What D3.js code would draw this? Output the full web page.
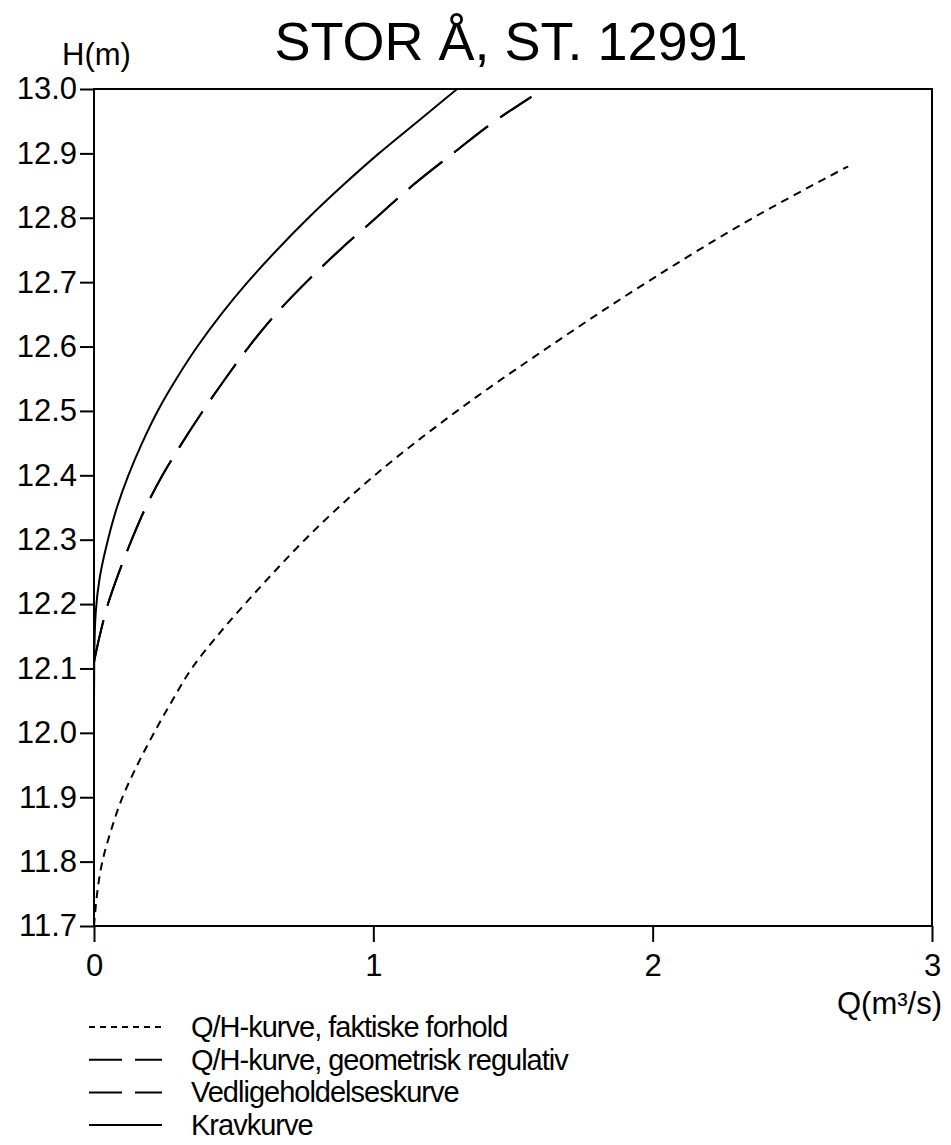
<!DOCTYPE html>
<html>
<head>
<meta charset="utf-8">
<script src="https://cdn.jsdelivr.net/npm/d3@7"></script>
<style>
  body { margin: 0; background: #fff; }
  svg text { font-family: "Liberation Sans", Arial, Helvetica, sans-serif; fill: #000; }
</style>
</head>
<body>
<div id="chart"></div>
<script>
// values
const yTicks = [11.7, 11.8, 11.9, 12.0, 12.1, 12.2, 12.3, 12.4, 12.5, 12.6, 12.7, 12.8, 12.9, 13.0];
const xTicks = [0, 1, 2, 3];

// Q/H-kurve, faktiske forhold
const faktH = [11.70, 11.72, 11.75, 11.80, 11.85, 11.90, 11.95, 12.00, 12.05, 12.10, 12.15, 12.20, 12.25, 12.30, 12.40, 12.50, 12.60, 12.70, 12.80, 12.88];
const faktQ = [0, 0.004, 0.011, 0.03, 0.062, 0.102, 0.155, 0.215, 0.28, 0.35, 0.44, 0.54, 0.645, 0.755, 1.005, 1.30, 1.63, 1.98, 2.36, 2.70];

// Q/H-kurve, geometrisk regulativ (drawn on top of the maintenance curve)
const regH = [12.11, 12.15, 12.20, 12.25, 12.30, 12.35, 12.40, 12.45, 12.50, 12.55, 12.60, 12.65, 12.70, 12.75, 12.80, 12.85, 12.90, 12.95, 12.988];
const regQ = [0.0, 0.02, 0.05, 0.09, 0.135, 0.185, 0.245, 0.315, 0.39, 0.47, 0.555, 0.65, 0.76, 0.88, 1.01, 1.14, 1.285, 1.435, 1.566];

// Vedligeholdelseskurve
const vedH = [12.11, 12.15, 12.20, 12.25, 12.30, 12.35, 12.40, 12.45, 12.50, 12.55, 12.60, 12.65, 12.70, 12.75, 12.80, 12.85, 12.90, 12.95, 12.988];
const vedQ = [0.0, 0.02, 0.05, 0.09, 0.135, 0.185, 0.245, 0.315, 0.39, 0.47, 0.555, 0.65, 0.76, 0.88, 1.01, 1.14, 1.285, 1.435, 1.566];

// Kravkurve
const kravH = [12.05, 12.12, 12.186, 12.24, 12.30, 12.35, 12.40, 12.45, 12.50, 12.55, 12.60, 12.65, 12.70, 12.75, 12.80, 12.85, 12.90, 12.95, 13.0];
const kravQ = [0, 0.001, 0.006, 0.02, 0.05, 0.082, 0.123, 0.172, 0.228, 0.295, 0.37, 0.455, 0.55, 0.655, 0.768, 0.89, 1.02, 1.16, 1.30];

const legendLabels = ["Q/H-kurve, faktiske forhold", "Q/H-kurve, geometrisk regulativ", "Vedligeholdelseskurve", "Kravkurve"];

const width = 951, height = 1145;
const plotL = 94, plotR = 932, plotT = 89, plotB = 926;

const svg = d3.select("#chart").append("svg")
    .attr("width", width)
    .attr("height", height);

const x = d3.scaleLinear().domain([0, 3]).range([plotL, plotR]);
const y = d3.scaleLinear().domain([11.7, 13.0]).range([plotB, plotT]);

// title + axis names
svg.append("text")
    .attr("x", 511).attr("y", 60)
    .attr("text-anchor", "middle")
    .style("font-size", "54px")
    .text("STOR Å, ST. 12991");

svg.append("text")
    .attr("x", 62).attr("y", 65)
    .style("font-size", "31px")
    .text("H(m)");

svg.append("text")
    .attr("x", 942).attr("y", 1014)
    .attr("text-anchor", "end")
    .style("font-size", "31px")
    .text("Q(m³/s)");

// axes
let yAxis = svg.append("g")
    .attr("transform", `translate(${plotL},0)`)
    .call(d3.axisLeft(y).tickValues(yTicks).tickFormat(d3.format(".1f")).tickSize(14).tickPadding(3).tickSizeOuter(0));

let xAxis = svg.append("g")
    .attr("transform", `translate(0,${plotB})`)
    .call(d3.axisBottom(x).tickValues(xTicks).tickFormat(d3.format("d")).tickSize(16).tickPadding(12).tickSizeOuter(0));

for (let a of [yAxis, xAxis]) {
    a.select(".domain").remove();
    a.selectAll("line").attr("stroke", "#000").attr("stroke-width", 2);
    a.selectAll("text").style("font-size", "31px").attr("fill", "#000");
}

// frame
svg.append("rect")
    .attr("x", plotL).attr("y", plotT)
    .attr("width", plotR - plotL).attr("height", plotB - plotT)
    .attr("fill", "none")
    .attr("stroke", "#000")
    .attr("stroke-width", 2);

// curves
const series = [
    { q: faktQ, h: faktH, dash: "8,6" },
    { q: vedQ, h: vedH, dash: "43,15" },
    { q: regQ, h: regH, dash: "43,15" },
    { q: kravQ, h: kravH, dash: null }
];

const line = d3.line()
    .x(d => x(d[0]))
    .y(d => y(d[1]))
    .curve(d3.curveMonotoneY);

svg.selectAll("path.curve")
    .data(series)
    .enter()
    .append("path")
    .classed("curve", true)
    .attr("d", s => line(d3.zip(s.q, s.h)))
    .attr("fill", "none")
    .attr("stroke", "#000")
    .attr("stroke-width", 2)
    .attr("stroke-dasharray", s => s.dash);

// legend
const legendDash = ["6,5", "33,13", "33,13", null];
const leg = svg.selectAll("g.legend")
    .data(legendLabels)
    .enter()
    .append("g")
    .classed("legend", true)
    .attr("transform", (d, i) => `translate(0,${1027 + i * 32.7})`);

leg.append("line")
    .attr("x1", 89).attr("x2", 162)
    .attr("stroke", "#000")
    .attr("stroke-width", 2)
    .attr("stroke-dasharray", (d, i) => legendDash[i]);

leg.append("text")
    .attr("x", 191).attr("y", 10)
    .style("font-size", "29px")
    .style("letter-spacing", "-1px")
    .text(d => d);
</script>
</body>
</html>
